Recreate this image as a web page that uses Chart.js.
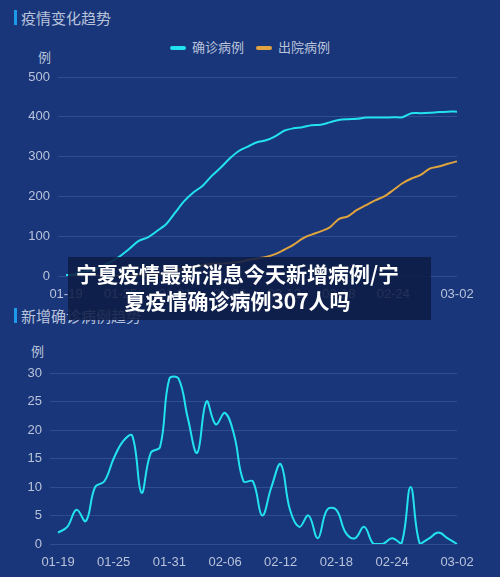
<!DOCTYPE html>
<html>
<head>
<meta charset="utf-8">
<script src="https://cdn.jsdelivr.net/npm/chart.js@4/dist/chart.umd.min.js"></script>
<style>
  body { margin: 0; width: 500px; height: 577px; background: #19367a; overflow: hidden; position: relative;
         font-family: "Noto Sans CJK SC", "Noto Sans", sans-serif; color: #b9c3da; }
  .title { position: absolute; left: 14px; font-size: 15px; border-left: 3px solid #1e9be8; padding-left: 4px; line-height: 15px; }
  .unit { position: absolute; font-size: 13px; }
  .legend { position: absolute; top: 37px; left: 170px; font-size: 13px; display: flex; gap: 12px; }
  .legend span i { display: inline-block; width: 16px; height: 4px; border-radius: 2px; vertical-align: middle; margin-right: 6px; }
  canvas { position: absolute; left: 0; }
  .caption { position: absolute; left: 68px; top: 257px; width: 363px; height: 63px; background: rgba(14,28,68,0.88);
             color: #fff; font-weight: bold; font-size: 21px; line-height: 27px; text-align: center; padding: 3px 24px 0 0; box-sizing: border-box; }
</style>
</head>
<body>
<div class="title" style="top:10px">疫情变化趋势</div>
<div class="legend">
  <span><i style="background:#22e2ef"></i>确诊病例</span>
  <span><i style="background:#e0a43e"></i>出院病例</span>
</div>
<div class="unit" style="left:38px;top:47px">例</div>
<canvas id="totalChart" width="500" height="240" style="top:60px"></canvas>

<div class="title" style="top:308px">新增确诊病例趋势</div>
<div class="unit" style="left:31px;top:341px">例</div>
<canvas id="dailyChart" width="500" height="221" style="top:356px"></canvas>

<div class="caption">宁夏疫情最新消息今天新增病例/宁<br>夏疫情确诊病例307人吗</div>

<script>
// Data
const dates = ['01-19','01-20','01-21','01-22','01-23','01-24','01-25','01-26','01-27','01-28','01-29','01-30','01-31',
  '02-01','02-02','02-03','02-04','02-05','02-06','02-07','02-08','02-09','02-10','02-11','02-12','02-13','02-14','02-15',
  '02-16','02-17','02-18','02-19','02-20','02-21','02-22','02-23','02-24','02-25','02-26','02-27','02-28','02-29','03-01','03-02'];
const confirmed = [2,5,11,15,25,36,51,69,88,97,113,130,159,188,210,226,251,272,295,314,325,336,341,351,365,371,374,379,
  380,386,392,394,395,398,398,398,399,399,409,409,410,412,413,413];
const discharged = [0,0,0,0,0,0,1,2,3,4,6,8,14,18,22,27,30,31,33,35,40,44,48,55,66,78,94,104,
  112,122,143,150,166,178,190,200,216,233,245,254,270,275,282,288];
const dailyNew = [2,3,6,4,10,11,15,18,19,9,16,17,29,29,22,16,25,21,23,19,11,11,5,10,14,6,3,5,
  1,6,6,2,1,3,0,0,1,0,10,0,1,2,1,0];
const totalTicks = [0, 100, 200, 300, 400, 500];
const dailyTicks = [0, 5, 10, 15, 20, 25, 30];

const textColor = '#b9c3da';
const gridColor = 'rgba(90,120,190,0.35)';

function makeChart(canvas, datasets, yMax, yStep, yWidth, xHeight) {
  return new Chart(canvas.getContext('2d'), {
    type: 'line',
    data: { labels: dates, datasets: datasets },
    options: {
      responsive: false,
      animation: false,
      layout: { padding: { top: 17, right: 43, left: 0, bottom: 0 } },
      plugins: { legend: { display: false }, tooltip: { enabled: false } },
      elements: { point: { radius: 0 } },
      scales: {
        x: {
          grid: { display: false },
          border: { display: false },
          afterFit: s => { s.height = xHeight; },
          ticks: {
            color: textColor, font: { size: 13 }, autoSkip: false, maxRotation: 0,
            callback: (v, i) => (i % 6 === 0 && i !== 42) || i === 43 ? dates[i] : ''
          }
        },
        y: {
          min: 0, max: yMax,
          afterFit: s => { s.width = yWidth; },
          grid: { color: gridColor },
          border: { display: false },
          ticks: { color: textColor, font: { size: 13 }, stepSize: yStep, padding: 8 }
        }
      }
    }
  });
}

makeChart(document.getElementById('totalChart'), [
  { label: '确诊病例', data: confirmed, borderColor: '#22e2ef', borderWidth: 2, tension: 0.3 },
  { label: '出院病例', data: discharged, borderColor: '#e0a43e', borderWidth: 2, tension: 0.3 }
], totalTicks[totalTicks.length - 1], 100, 66, 24);

makeChart(document.getElementById('dailyChart'), [
  { label: '新增确诊', data: dailyNew, borderColor: '#22e2ef', borderWidth: 2, tension: 0.4 }
], dailyTicks[dailyTicks.length - 1], 5, 58, 33);
</script>
</body>
</html>
